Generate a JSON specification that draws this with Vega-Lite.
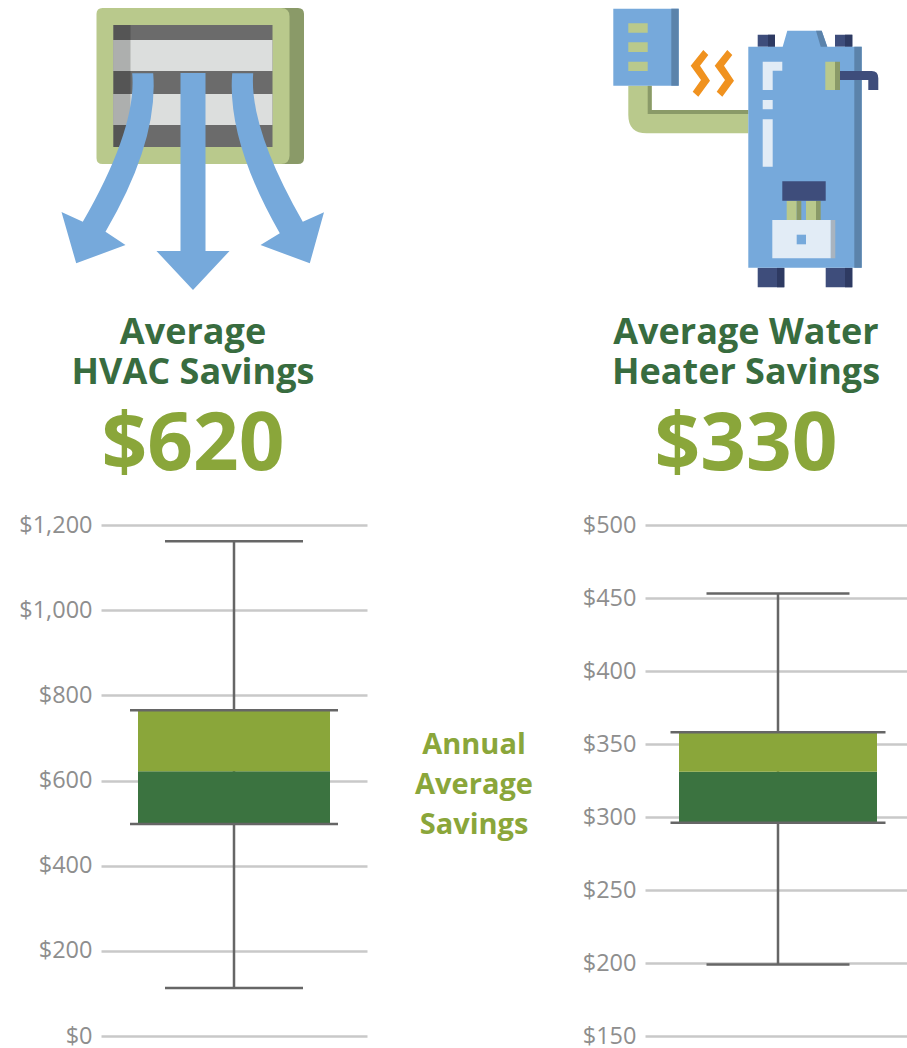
{
"$schema":"https://vega.github.io/schema/vega-lite/v6.json",
"background":"white",
"padding":{"left":18,"top":0,"right":0,"bottom":0},
"config":{"view":{"stroke":null},"point":{"opacity":1,"filled":true,"size":4,"strokeWidth":0},
"title":{"font":"Open Sans","fontWeight":"bold","fontSize":36,"color":"#386C3F","lineHeight":40,"orient":"bottom","anchor":"middle","subtitleFont":"Open Sans","subtitleFontWeight":"bold","subtitleFontSize":80,"subtitleColor":"#8AA63A","subtitlePadding":15,"offset":21},
"axis":{"labelFont":"Open Sans","labelFontSize":23.5,"labelColor":"#8E8E8E","labelPadding":9,"grid":true,"gridColor":"#C9C9C9","gridWidth":2.5,"ticks":false,"domain":false,"title":null,"format":"$,.0f"}},
"datasets":{
"hvac":[{"group":"HVAC","low":113,"q1":498,"median":622,"q3":765,"high":1162}],
"water":[{"group":"Water heater","low":199,"q1":296,"median":331,"q3":358,"high":453}],
"note":[{"group":"HVAC","label":"Annual\nAverage\nSavings","at":684}],
"iconA":[{"icon":"HVAC"}],
"iconB":[{"icon":"Water heater"}]
},
"hconcat":[
{"vconcat":[
 {"width":184,"height":295,"data":{"name":"iconA"},
  "title":{"text":["Average","HVAC Savings"],"subtitle":"$620"},
  "layer":[
  {"mark":{"type":"point","fill":"#8A9A68","shape":"M-90.5,-139.5H105Q111,-139.5 111,-133.5V10.5Q111,16.5 105,16.5H-90.5Z"},"encoding":{}},
  {"mark":{"type":"point","fill":"#B9C98C","shape":"M-90.5,-139.5H88Q96.5,-139.5 96.5,-131V8Q96.5,16.5 88,16.5H-90.5Q-96.5,16.5 -96.5,10.5V-133.5Q-96.5,-139.5 -90.5,-139.5Z"},"encoding":{}},
  {"mark":{"type":"point","fill":"#6B6B6B","shape":"M-79.5,-122.5H79.5V-0.5H-79.5Z"},"encoding":{}},
  {"mark":{"type":"point","fill":"#555555","shape":"M-79.5,-122.5H-62.5V-0.5H-79.5Z"},"encoding":{}},
  {"mark":{"type":"point","fill":"#DCDEDD","shape":"M-79.5,-107.5H79.5V-76.5H-79.5ZM-79.5,-53.5H79.5V-22.5H-79.5Z"},"encoding":{}},
  {"mark":{"type":"point","fill":"#ADAFAE","shape":"M-79.5,-107.5H-62.5V-76.5H-79.5ZM-79.5,-53.5H-62.5V-22.5H-79.5Z"},"encoding":{}},
  {"mark":{"type":"point","fill":"#76A9DB","shape":"M-12.5,-74.5H12.5V103.5H36.5L0,142.5L-36.5,103.5H-12.5Z"},"encoding":{}},
  {"mark":{"type":"point","fill":"#76A9DB","shape":"M-60.8,-74.2H-39.8Q-34.4,-6.6 -87.5,84.2L-67.5,97.5L-116.8,115.8L-131.5,64.5L-110.2,74.2Q-56,-20 -60.8,-74.2Z"},"encoding":{}},
  {"mark":{"type":"point","fill":"#76A9DB","shape":"M60.2,-74.2H39.2Q33.8,-6.6 86.8,85.8L67.5,97.5L116.8,115.8L131,64.8L109.8,74.2Q56,-20 60.2,-74.2Z"},"encoding":{}}
 ]},
 {"width":266,"height":511,"data":{"name":"hvac"},
  "encoding":{"x":{"field":"group","type":"nominal","axis":null}},
  "layer":[
  {"mark":{"type":"rule","color":"#666666","strokeWidth":2.5},"encoding":{"y":{"field":"low","type":"quantitative","scale":{"domain":[0,1200],"nice":false},"axis":{"values":[0,200,400,600,800,1000,1200]}},"y2":{"field":"high"}}},
  {"mark":{"type":"bar","width":192,"color":"#3B7340"},"encoding":{"y":{"field":"q1","type":"quantitative"},"y2":{"field":"median"}}},
  {"mark":{"type":"bar","width":192,"color":"#8AA63A"},"encoding":{"y":{"field":"median","type":"quantitative"},"y2":{"field":"q3"}}},
  {"mark":{"type":"tick","orient":"horizontal","width":138,"thickness":2.5,"color":"#666666","opacity":1},"encoding":{"y":{"field":"low","type":"quantitative"}}},
  {"mark":{"type":"tick","orient":"horizontal","width":138,"thickness":2.5,"color":"#666666","opacity":1},"encoding":{"y":{"field":"high","type":"quantitative"}}},
  {"mark":{"type":"tick","orient":"horizontal","width":208,"thickness":2.5,"color":"#666666","opacity":1},"encoding":{"y":{"field":"q1","type":"quantitative"}}},
  {"mark":{"type":"tick","orient":"horizontal","width":208,"thickness":2.5,"color":"#666666","opacity":1},"encoding":{"y":{"field":"q3","type":"quantitative"}}},
  {"data":{"name":"note"},"mark":{"type":"text","dx":240,"font":"Open Sans","fontWeight":"bold","fontSize":29,"lineHeight":40,"color":"#8AA63A","lineBreak":"\n","align":"center","baseline":"middle"},"encoding":{"y":{"field":"at","type":"quantitative"},"text":{"field":"label"}}}
 ]}
],"spacing":27},
{"vconcat":[
 {"width":202,"height":295,"data":{"name":"iconB"},
  "title":{"text":["Average Water","Heater Savings"],"subtitle":"$330"},
  "layer":[
  {"mark":{"type":"point","fill":"#B9C98C","shape":"M-117.7,-61.8V-32.5Q-117.7,-14.2 -99.3,-14.2H2.3V-37.5H-94.3V-61.8Z"},"encoding":{}},
  {"mark":{"type":"point","fill":"#8A9A68","shape":"M-98.3,-61.8H-94.3V-37.5H2.3V-33.5H-98.3Z"},"encoding":{}},
  {"mark":{"type":"point","fill":"#76A9DB","shape":"M-132.7,-138.8H-67.3V-61.8H-132.7Z"},"encoding":{}},
  {"mark":{"type":"point","fill":"#5B83AB","shape":"M-74.7,-138.8H-67.3V-61.8H-74.7Z"},"encoding":{}},
  {"mark":{"type":"point","fill":"#B9C98C","shape":"M-117.7,-124.2H-98.3V-114.8H-117.7ZM-117.7,-105.2H-98.3V-95.5H-117.7ZM-117.7,-85.8H-98.3V-76.5H-117.7Z"},"encoding":{}},
  {"mark":{"type":"point","fill":"#F0921F","shape":"M-42.7,-97.5L-37.7,-92.5L-46,-81.8L-36,-66.8L-47.7,-50.8L-53.3,-55.8L-45,-67.5L-55.3,-81.8ZM-18.7,-97.5L-13.7,-92.5L-22,-81.8L-12,-66.8L-23.7,-50.8L-29.3,-55.8L-21,-67.5L-31.3,-81.8Z"},"encoding":{}},
  {"mark":{"type":"point","fill":"#3E4D7B","shape":"M11.7,-112.8H29V-100.8H11.7ZM89,-112.8H106.3V-100.8H89ZM11.7,120.2H38.3V139.8H11.7ZM79.7,120.2H106.3V139.8H79.7Z"},"encoding":{}},
  {"mark":{"type":"point","fill":"#2E3A62","shape":"M22,-112.8H29V-100.8H22ZM99,-112.8H106.3V-100.8H99ZM31,120.2H38.3V139.8H31ZM99,120.2H106.3V139.8H99Z"},"encoding":{}},
  {"mark":{"type":"point","fill":"#76A9DB","shape":"M2.3,-100.8H36.7L41.3,-116.8H75.7L81.3,-100.8H115.7V120.2H2.3Z"},"encoding":{}},
  {"mark":{"type":"point","fill":"#5B83AB","shape":"M108.3,-100.8H115.7V120.2H108.3ZM70,-116.8H75.7L81.3,-100.8H74.7Z"},"encoding":{}},
  {"mark":{"type":"point","fill":"#E2ECF6","shape":"M16.7,-85.8H36.3V-76.8H26.7V-57.5H16.7ZM16.7,-47.5H26.7V-38.2H16.7ZM16.7,-28.2H26.7V19.2H16.7Z"},"encoding":{}},
  {"mark":{"type":"point","fill":"#3E4D7B","shape":"M94,-76.5H125.7Q132.3,-76.5 132.3,-69.2V-57.5H122.3V-67.5H94Z"},"encoding":{}},
  {"mark":{"type":"point","fill":"#B9C98C","shape":"M79.3,-85.8H89V-57.5H79.3ZM40.7,53.2H50.7V72.5H40.7ZM60,53.2H70V72.5H60Z"},"encoding":{}},
  {"mark":{"type":"point","fill":"#8A9A68","shape":"M89,-85.8H94V-57.5H89ZM50.7,53.2H55.3V72.5H50.7ZM70,53.2H74.7V72.5H70Z"},"encoding":{}},
  {"mark":{"type":"point","fill":"#3E4D7B","shape":"M36.3,33.8H79.7V53.2H36.3Z"},"encoding":{}},
  {"mark":{"type":"point","fill":"#A9B4BF","shape":"M84.7,72.5H89.3V110.8H84.7Z"},"encoding":{}},
  {"mark":{"type":"point","fill":"#E2ECF6","shape":"M26.3,72.5H84.7V110.8H26.3Z"},"encoding":{}},
  {"mark":{"type":"point","fill":"#76A9DB","shape":"M50.7,87.2H60V96.8H50.7Z"},"encoding":{}}
 ]},
 {"width":262,"height":511,"data":{"name":"water"},
  "encoding":{"x":{"field":"group","type":"nominal","axis":null}},
  "layer":[
  {"mark":{"type":"rule","color":"#666666","strokeWidth":2.5,"xOffset":2},"encoding":{"y":{"field":"low","type":"quantitative","scale":{"domain":[150,500],"nice":false,"zero":false},"axis":{"values":[150,200,250,300,350,400,450,500]}},"y2":{"field":"high"}}},
  {"mark":{"type":"bar","width":198,"color":"#3B7340","xOffset":2},"encoding":{"y":{"field":"q1","type":"quantitative"},"y2":{"field":"median"}}},
  {"mark":{"type":"bar","width":198,"color":"#8AA63A","xOffset":2},"encoding":{"y":{"field":"median","type":"quantitative"},"y2":{"field":"q3"}}},
  {"mark":{"type":"tick","orient":"horizontal","width":143,"thickness":2.5,"color":"#666666","opacity":1,"xOffset":2},"encoding":{"y":{"field":"low","type":"quantitative"}}},
  {"mark":{"type":"tick","orient":"horizontal","width":143,"thickness":2.5,"color":"#666666","opacity":1,"xOffset":2},"encoding":{"y":{"field":"high","type":"quantitative"}}},
  {"mark":{"type":"tick","orient":"horizontal","width":215,"thickness":2.5,"color":"#666666","opacity":1,"xOffset":2},"encoding":{"y":{"field":"q1","type":"quantitative"}}},
  {"mark":{"type":"tick","orient":"horizontal","width":215,"thickness":2.5,"color":"#666666","opacity":1,"xOffset":2},"encoding":{"y":{"field":"q3","type":"quantitative"}}}
 ]}
],"spacing":27}
],"spacing":49
}
